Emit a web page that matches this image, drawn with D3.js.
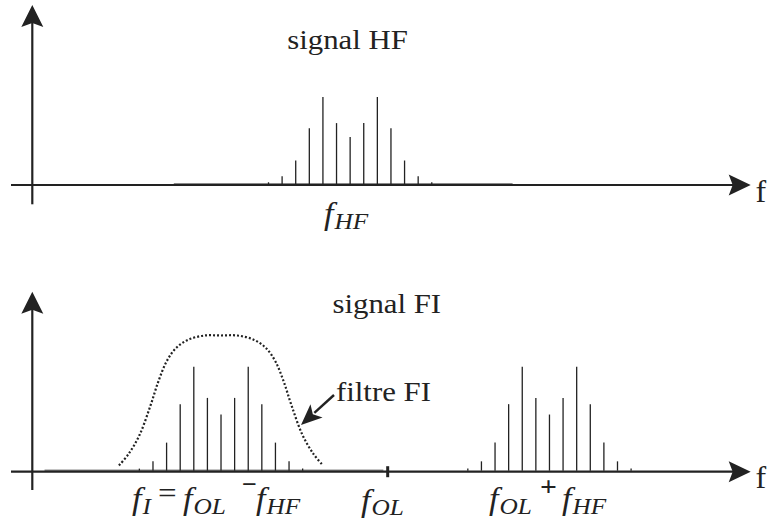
<!DOCTYPE html>
<html>
<head>
<meta charset="utf-8">
<script src="https://cdn.jsdelivr.net/npm/d3@7/dist/d3.min.js"></script>
<style>
  html, body { margin: 0; padding: 0; background: #fff; }
  svg { display: block; }
  text { font-family: "Liberation Serif", "Times New Roman", serif; fill: #222; }
</style>
</head>
<body>
<script>
// Spectral lines of the modulated carrier, relative to its centre (line spacing = 1 unit)
const lineOffsets    = [-6, -5, -4, -3, -2, -1, 0, 1, 2, 3, 4, 5, 6];
const lineAmplitudes = [0.02, 0.09, 0.27, 0.64, 1.0, 0.70, 0.54, 0.70, 1.0, 0.64, 0.27, 0.09, 0.02];

// Frequencies along the axis (same units)
const fHF  = 23.36;
const fI   = 13.87;
const fOL  = 26.12;
const fSum = 38.01;
const fAxisMax = 52.8;

// Low-level floor drawn under each spectrum [from, to]
const floorHF = [10.4, 35.3];
const floorFI = [0.9, 25.8];

// IF filter response (offset from fI, gain)
const filterOffsets = [-7.5, -6.8, -6.0, -5.2, -4.6, -4.0, -3.3, -2.4, -1.2, 0, 1.2, 2.4, 3.3, 4.0, 4.6, 5.2, 6.0, 6.8, 7.5];
const filterGains   = [0.05, 0.16, 0.34, 0.62, 0.86, 1.05, 1.18, 1.26, 1.30, 1.30, 1.30, 1.26, 1.18, 1.05, 0.86, 0.62, 0.34, 0.16, 0.05];

const W = 770, H = 519;
const ink = "#222";
const stretch = 1.1;

const svg = d3.select("body").append("svg").attr("width", W).attr("height", H);

const x = d3.scaleLinear().domain([0, fAxisMax]).range([32.3, 750.7]);

const panels = [
  { axisY: 185,   top: 5,     bottom: 204.3, peak: 87 },
  { axisY: 471.7, top: 291.7, bottom: 490,   peak: 104 }
];

function label(g, str, px, py, opts = {}) {
  return g.append("text")
    .attr("transform", `translate(${px},${py}) scale(${stretch},1)`)
    .attr("font-size", opts.size || 28)
    .attr("font-style", opts.italic ? "italic" : "normal")
    .attr("font-weight", opts.bold ? "bold" : "normal")
    .text(str);
}

// Subscripted frequency name such as f_HF
function freqLabel(g, sub, px, py, drop = 5.5) {
  const t = g.append("text")
    .attr("transform", `translate(${px},${py}) scale(${stretch},1)`)
    .attr("font-style", "italic");
  t.append("tspan").attr("font-size", 31).text("f");
  t.append("tspan").attr("font-size", 23).attr("dy", drop).attr("dx", 1).text(sub);
  return t;
}

function drawAxes(g, p) {
  // vertical axis
  const x0 = x(0);
  g.append("line").attr("x1", x0).attr("x2", x0)
    .attr("y1", p.top + 16).attr("y2", p.bottom)
    .attr("stroke", ink).attr("stroke-width", 2.2);
  g.append("path")
    .attr("d", `M${x0},${p.top} L${x0 + 11},${p.top + 22} L${x0},${p.top + 18} L${x0 - 11},${p.top + 22} Z`)
    .attr("fill", ink);
  // frequency axis
  const tip = x(fAxisMax);
  g.append("line").attr("x1", 11).attr("x2", tip - 16)
    .attr("y1", p.axisY).attr("y2", p.axisY)
    .attr("stroke", ink).attr("stroke-width", 2.2);
  g.append("path")
    .attr("d", `M${tip},${p.axisY} L${tip - 22},${p.axisY - 10.5} L${tip - 18},${p.axisY} L${tip - 22},${p.axisY + 10.5} Z`)
    .attr("fill", ink);
  g.append("text").attr("x", 755.5).attr("y", p.axisY + 16.5)
    .attr("font-size", 32).text("f");
}

function drawSpectrum(g, y, centre) {
  g.selectAll(null).data(lineOffsets).enter().append("line")
    .attr("x1", d => x(centre + d)).attr("x2", d => x(centre + d))
    .attr("y1", y(0)).attr("y2", (d, i) => y(lineAmplitudes[i]))
    .attr("stroke", ink).attr("stroke-width", 1.3);
}

function drawFloor(g, p, span) {
  g.append("line").attr("x1", x(span[0])).attr("x2", x(span[1]))
    .attr("y1", p.axisY - 1.3).attr("y2", p.axisY - 1.3)
    .attr("stroke", "#8a8a8a").attr("stroke-width", 1.6);
}

// ---- Upper panel: RF signal ----
{
  const p = panels[0];
  const g = svg.append("g");
  const y = d3.scaleLinear().domain([0, 1]).range([p.axisY - 1, p.axisY - 1 - p.peak]);
  drawFloor(g, p, floorHF);
  drawAxes(g, p);
  drawSpectrum(g, y, fHF);
  label(g, "signal HF", 287.3, 49.3);
  freqLabel(g, "HF", 324, 223.5);
}

// ---- Lower panel: IF signal after mixing ----
{
  const p = panels[1];
  const g = svg.append("g");
  const y = d3.scaleLinear().domain([0, 1]).range([p.axisY - 1, p.axisY - 1 - p.peak]);
  drawFloor(g, p, floorFI);
  drawAxes(g, p);
  drawSpectrum(g, y, fI);
  drawSpectrum(g, y, fSum);

  // local oscillator marker
  g.append("line").attr("x1", x(fOL)).attr("x2", x(fOL))
    .attr("y1", p.axisY - 5.5).attr("y2", p.axisY + 5.5)
    .attr("stroke", ink).attr("stroke-width", 3);

  // IF filter response
  const curve = d3.line()
    .x(d => x(fI + d))
    .y((d, i) => y(filterGains[i]))
    .curve(d3.curveCatmullRom.alpha(0.5));
  g.append("path").attr("d", curve(filterOffsets))
    .attr("fill", "none").attr("stroke", ink)
    .attr("stroke-width", 2.2).attr("stroke-dasharray", "2,2");

  label(g, "signal FI", 332.5, 313.3);
  label(g, "filtre FI", 336, 401);

  // pointer to the filter curve
  const ax0 = 334, ay0 = 395, ax1 = 301, ay1 = 425;
  const ang = Math.atan2(ay1 - ay0, ax1 - ax0);
  const hl = 21, hw = 9;
  const bx = ax1 - hl * Math.cos(ang), by = ay1 - hl * Math.sin(ang);
  const nx = -Math.sin(ang), ny = Math.cos(ang);
  g.append("line").attr("x1", ax0).attr("y1", ay0).attr("x2", bx + 3 * Math.cos(ang)).attr("y2", by + 3 * Math.sin(ang))
    .attr("stroke", ink).attr("stroke-width", 2.4);
  const nb = 5;
  g.append("path")
    .attr("d", `M${ax1},${ay1} L${bx + hw * nx},${by + hw * ny} L${bx + nb * Math.cos(ang)},${by + nb * Math.sin(ang)} L${bx - hw * nx},${by - hw * ny} Z`)
    .attr("fill", ink);

  // frequency labels
  freqLabel(g, "I", 132, 508.5, 5);
  label(g, "=", 158, 503, { size: 30 });
  freqLabel(g, "OL", 183, 508.5, 5);
  label(g, "\u2212", 242, 492, { size: 24, bold: true });
  freqLabel(g, "HF", 256, 508.5, 5);

  freqLabel(g, "OL", 361, 510.5, 4);

  freqLabel(g, "OL", 489, 508.5, 5);
  label(g, "+", 540, 496, { size: 27, bold: true });
  freqLabel(g, "HF", 562, 508.5, 5);
}
</script>
</body>
</html>
